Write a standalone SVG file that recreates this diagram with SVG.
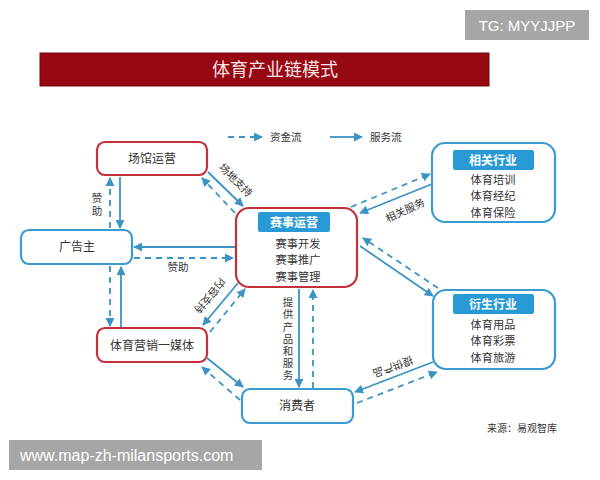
<svg xmlns="http://www.w3.org/2000/svg" width="600" height="480" viewBox="0 0 600 480">
<defs>
<style>
.t{font-family:"Noto Sans CJK SC","Liberation Sans",sans-serif;fill:#333;}
.nr{fill:#fff;stroke:#c5303a;stroke-width:2.2;}
.nb{fill:#fff;stroke:#3a9ad2;stroke-width:2.2;}
.lab{fill:#2a9ad6;}
.s{stroke:#3a93c4;stroke-width:1.8;fill:none;marker-end:url(#ah);}
.d{stroke:#3a93c4;stroke-width:1.8;fill:none;stroke-dasharray:6 5;marker-end:url(#ah);}
.c{font-size:12px;text-anchor:middle;}
.m{font-size:11.2px;text-anchor:middle;}
.l{font-size:10.5px;text-anchor:middle;}
.v{font-size:10.5px;writing-mode:vertical-rl;glyph-orientation-vertical:0;}
</style>
<marker id="ah" viewBox="0 0 10 10" refX="9" refY="5" markerWidth="5" markerHeight="5" orient="auto">
<path d="M0,0 L10,5 L0,10 z" fill="#3a93c4"/>
</marker>
</defs>
<rect width="600" height="480" fill="#fff"/>
<g id="tg">
<rect x="465" y="10" width="124" height="30" fill="#a6a6a6"/>
<text x="527" y="31" font-family="Liberation Sans, sans-serif" font-size="15" fill="#fff" text-anchor="middle">TG: MYYJJPP</text>
</g>
<g id="title">
<rect x="40" y="53" width="449" height="33" fill="#960812" stroke="#6e0a0e" stroke-width="1"/>
<text x="275" y="76" class="t" font-size="18" style="fill:#f6e4e4" text-anchor="middle">体育产业链模式</text>
</g>
<g id="legend">
<line x1="228" y1="137" x2="262" y2="137" class="d"/>
<text x="270" y="141" class="t" font-size="10.5">资金流</text>
<line x1="330" y1="137" x2="362" y2="137" class="s"/>
<text x="370" y="141" class="t" font-size="10.5">服务流</text>
</g>
<g id="connectors">
<line x1="120" y1="177" x2="120" y2="228" class="s"/>
<line x1="110" y1="228" x2="110" y2="178" class="d"/>
<line x1="110" y1="266" x2="110" y2="326" class="d"/>
<line x1="121" y1="327" x2="121" y2="267" class="s"/>
<line x1="235" y1="247" x2="134" y2="247" class="s"/>
<line x1="134" y1="258" x2="233" y2="258" class="d"/>
<line x1="208" y1="172" x2="243" y2="206" class="s"/>
<line x1="235" y1="213" x2="202" y2="178" class="d"/>
<line x1="238" y1="283" x2="203" y2="325" class="s"/>
<line x1="210" y1="332" x2="245" y2="289" class="d"/>
<line x1="299" y1="289" x2="299" y2="387" class="s"/>
<line x1="313" y1="388" x2="313" y2="290" class="d"/>
<line x1="207" y1="358" x2="243" y2="387" class="s"/>
<line x1="240" y1="400" x2="202" y2="367" class="d"/>
<line x1="351" y1="207" x2="430" y2="174" class="d"/>
<line x1="432" y1="184" x2="360" y2="213" class="s"/>
<line x1="360" y1="246" x2="433" y2="296" class="s"/>
<line x1="438" y1="288" x2="363" y2="238" class="d"/>
<line x1="433" y1="362" x2="355" y2="392" class="s"/>
<line x1="357" y1="403" x2="437" y2="372" class="d"/>
</g>
<g id="labels">
<text x="97" y="193" class="t v" style="letter-spacing:2px">赞助</text>
<text x="178" y="271" class="t l">赞助</text>
<text class="t l" transform="translate(236,180) rotate(45)" y="4">场地支持</text>
<text class="t l" transform="translate(210,296) rotate(130)" y="4">内容支持</text>
<text class="t l" transform="translate(405,210) rotate(-25)" y="4">相关服务</text>
<text class="t l" transform="translate(393,367) rotate(160)" y="4">提供产品</text>
<text x="288" y="297" class="t v" style="letter-spacing:1.7px">提供产品和服务</text>
</g>
<g id="n-changguan">
<rect x="97" y="142" width="110" height="33" rx="8" class="nr"/>
<text x="152" y="163" class="t c">场馆运营</text>
</g>
<g id="n-guanggao">
<rect x="21" y="230" width="111" height="34" rx="8" class="nb"/>
<text x="77" y="251" class="t c">广告主</text>
</g>
<g id="n-saishi">
<rect x="236" y="208" width="121" height="79" rx="13" class="nr"/>
<rect x="258" y="212" width="72" height="20" rx="2" class="lab"/>
<text x="294" y="227" class="t c" style="fill:#fff;font-weight:bold">赛事运营</text>
<text class="t m"><tspan x="298" y="248">赛事开发</tspan><tspan x="298" dy="16.3">赛事推广</tspan><tspan x="298" dy="16.3">赛事管理</tspan></text>
</g>
<g id="n-meiti">
<rect x="97" y="328" width="110" height="34" rx="8" class="nr"/>
<text x="152" y="350" class="t c">体育营销一媒体</text>
</g>
<g id="n-xiaofei">
<rect x="242" y="389" width="111" height="34" rx="8" class="nb"/>
<text x="297" y="410" class="t c">消费者</text>
</g>
<g id="n-xiangguan">
<rect x="432" y="143" width="123" height="79" rx="13" class="nb"/>
<rect x="453" y="150" width="81" height="20" rx="2" class="lab"/>
<text x="493" y="165" class="t c" style="fill:#fff;font-weight:bold">相关行业</text>
<text class="t m"><tspan x="493" y="184">体育培训</tspan><tspan x="493" dy="16.3">体育经纪</tspan><tspan x="493" dy="16.3">体育保险</tspan></text>
</g>
<g id="n-yansheng">
<rect x="433" y="290" width="122" height="79" rx="13" class="nb"/>
<rect x="453" y="294" width="81" height="20" rx="2" class="lab"/>
<text x="493" y="309" class="t c" style="fill:#fff;font-weight:bold">衍生行业</text>
<text class="t m"><tspan x="493" y="329">体育用品</tspan><tspan x="493" dy="16.3">体育彩票</tspan><tspan x="493" dy="16.3">体育旅游</tspan></text>
</g>
<text x="487" y="432" class="t" font-size="10">来源：易观智库</text>
<g id="watermark">
<rect x="9" y="440" width="253" height="30" fill="#a6a6a6"/>
<text x="20" y="461" font-family="Liberation Sans, sans-serif" font-size="16" fill="#fff">www.map-zh-milansports.com</text>
</g>
</svg>
